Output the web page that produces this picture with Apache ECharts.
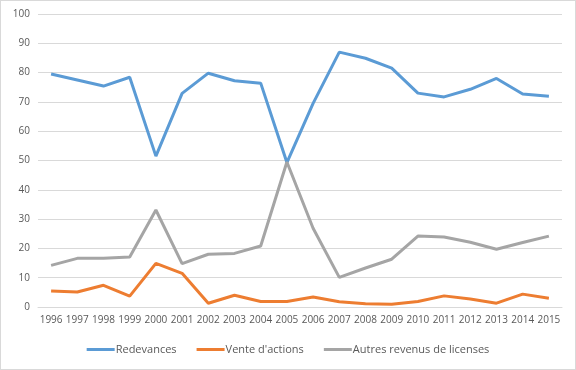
<!DOCTYPE html>
<html><head><meta charset="utf-8">
<script src="https://cdn.jsdelivr.net/npm/echarts@6/dist/echarts.min.js"></script>
<style>html,body{margin:0;padding:0;background:#fff}#c{width:576px;height:370px;box-sizing:border-box;border:1px solid #d9d9d9}</style>
</head><body><div id="c"></div>
<script>
const years = ['1996','1997','1998','1999','2000','2001','2002','2003','2004','2005','2006','2007','2008','2009','2010','2011','2012','2013','2014','2015'];
const redevances = [79.5,77.5,75.4,78.4,51.5,72.9,79.8,77.2,76.4,49.3,69.5,87.0,84.9,81.5,73.0,71.7,74.3,78.0,72.7,71.9];
const venteActions = [5.5,5.1,7.4,3.7,14.9,11.5,1.3,4.0,1.9,1.9,3.4,1.8,1.1,0.9,1.9,3.8,2.7,1.3,4.4,3.0];
const autresRevenus = [14.2,16.6,16.6,17.1,33.1,14.8,18.0,18.3,20.8,49.5,26.9,10.1,13.3,16.3,24.2,23.9,22.1,19.7,22.0,24.2];
const yTicks = {min:0, max:100, interval:10};

const chart = echarts.init(document.getElementById('c'), null, {renderer:'canvas'});
const font = '"Open Sans", "Liberation Sans", Arial, sans-serif';
const mk = (name, data, color) => ({
  name, type:'line', data, symbol:'none', smooth:false,
  lineStyle:{width:3, color}, itemStyle:{color}
});
chart.setOption({
  animation:false,
  grid:{left:37, right:13, top:13, bottom:62},
  xAxis:{type:'category', data:years, boundaryGap:true,
    axisLine:{show:true, lineStyle:{color:'#d9d9d9'}}, axisTick:{show:false},
    axisLabel:{color:'#595959', fontSize:10, fontFamily:font, margin:8, interval:0}},
  yAxis:{type:'value', min:yTicks.min, max:yTicks.max, interval:yTicks.interval,
    axisLine:{show:false}, axisTick:{show:false},
    splitLine:{lineStyle:{color:'#d9d9d9', width:1}},
    axisLabel:{color:'#595959', fontSize:10, fontFamily:font, margin:8}},
  legend:{bottom:9, left:'center', itemWidth:28, itemHeight:3, itemGap:20,
    icon:'rect',
    textStyle:{color:'#595959', fontSize:11, fontFamily:font, padding:[0,0,0,-4]}},
  series:[
    mk('Redevances', redevances, '#5B9BD5'),
    mk("Vente d'actions", venteActions, '#ED7D31'),
    mk('Autres revenus de licenses', autresRevenus, '#A5A5A5')
  ]
});
</script></body></html>
